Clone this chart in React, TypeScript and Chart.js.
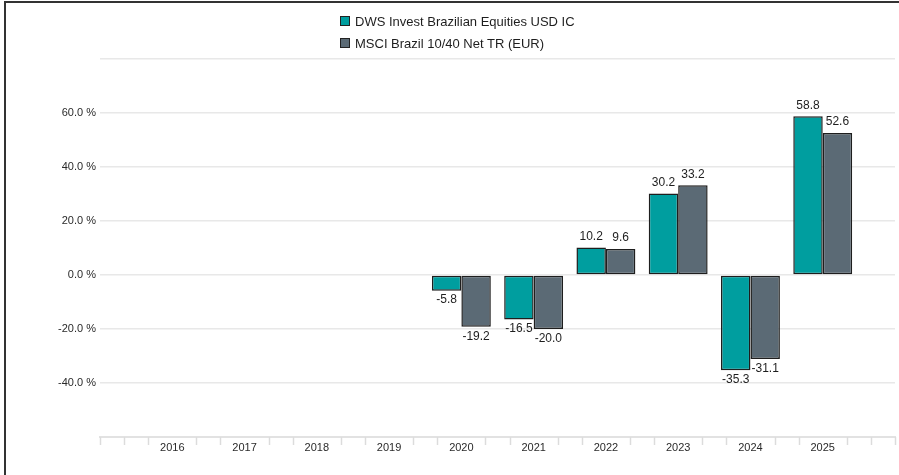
import React, { useEffect, useRef } from "react";
import { Chart, registerables } from "chart.js";

Chart.register(...registerables);

const years = ["2016", "2017", "2018", "2019", "2020", "2021", "2022", "2023", "2024", "2025"];
const fundName = "DWS Invest Brazilian Equities USD IC";
const benchName = "MSCI Brazil 10/40 Net TR (EUR)";
const fundValues: (number | null)[] = [null, null, null, null, -5.8, -16.5, 10.2, 30.2, -35.3, 58.8];
const benchValues: (number | null)[] = [null, null, null, null, -19.2, -20.0, 9.6, 33.2, -31.1, 52.6];
const fundColor = "#009E9F";
const benchColor = "#5B6A75";
const yMin = -60;
const yMax = 80;
const yStep = 20;

const FONT = "'Liberation Sans', Arial, sans-serif";

const valueLabels = {
  id: "valueLabels",
  afterDatasetsDraw(chart: any) {
    const ctx = chart.ctx;
    ctx.save();
    ctx.font = `12px ${FONT}`;
    ctx.fillStyle = "#1e1e1e";
    ctx.textAlign = "center";
    ctx.textBaseline = "middle";
    chart.data.datasets.forEach((ds: any, i: number) => {
      const meta = chart.getDatasetMeta(i);
      meta.data.forEach((el: any, j: number) => {
        const v = ds.data[j];
        if (v === null || v === undefined) return;
        const y = v >= 0 ? el.y - 11 : el.y + 9.5;
        ctx.fillText(v.toFixed(1), el.x, y);
      });
    });
    ctx.restore();
  },
};

const minorTicks = {
  id: "minorTicks",
  afterDraw(chart: any) {
    const sx = chart.scales.x;
    const ctx = chart.ctx;
    const n = chart.data.labels.length - 1;
    ctx.save();
    ctx.strokeStyle = "#dcdcdc";
    ctx.lineWidth = 1.5;
    for (let k = 0; k <= n * 3; k++) {
      const t = k / 3;
      if (k % 3 === 0 && t >= 1 && t <= n - 1) continue;
      const x = Math.round(sx.getPixelForValue(t)) + 0.5;
      ctx.beginPath();
      ctx.moveTo(x, sx.top);
      ctx.lineTo(x, sx.top + 8);
      ctx.stroke();
    }
    ctx.restore();
  },
};

export default function App() {
  const ref = useRef<HTMLCanvasElement>(null);

  useEffect(() => {
    document.body.style.margin = "0";
    const labels = ["", ...years, ""];
    const chart = new Chart(ref.current!, {
      type: "bar",
      data: {
        labels,
        datasets: [
          {
            label: fundName,
            data: [null, ...fundValues, null],
            backgroundColor: fundColor,
            borderColor: "#1e1e1e",
            borderWidth: 1.5,
            borderSkipped: false,
            categoryPercentage: 0.815,
            barPercentage: 1,
          },
          {
            label: benchName,
            data: [null, ...benchValues, null],
            backgroundColor: benchColor,
            borderColor: "#1e1e1e",
            borderWidth: 1.5,
            borderSkipped: false,
            categoryPercentage: 0.815,
            barPercentage: 1,
          },
        ],
      },
      options: {
        responsive: false,
        animation: false,
        layout: { padding: { left: 0, right: 3, top: 59, bottom: 0 } },
        plugins: {
          legend: { display: false },
          tooltip: { enabled: false },
        },
        scales: {
          x: {
            offset: false,
            grid: { display: false, drawTicks: false },
            border: { display: true, color: "#e2e2e2", width: 2 },
            ticks: {
              autoSkip: false,
              maxRotation: 0,
              padding: 4,
              color: "#2a2a2a",
              font: { family: FONT, size: 11 },
            },
            afterFit: (s: any) => {
              s.height = 38;
            },
          },
          y: {
            min: yMin,
            max: yMax,
            grid: { color: "#e8e8e8", lineWidth: 1.5, drawTicks: false },
            border: { display: false },
            ticks: {
              stepSize: yStep,
              padding: 4,
              color: "#2a2a2a",
              font: { family: FONT, size: 11 },
              callback: (v: any) => (v === yMax || v === yMin ? "" : Number(v).toFixed(1) + " %"),
            },
            afterFit: (s: any) => {
              s.width = 100;
            },
          },
        },
      },
      plugins: [valueLabels, minorTicks],
    });
    return () => chart.destroy();
  }, []);

  const legendItems = [
    { name: fundName, color: fundColor, top: 13 },
    { name: benchName, color: benchColor, top: 35 },
  ];

  return (
    <div style={{ position: "fixed", left: 0, top: 0, width: 899, height: 475, background: "#fff", overflow: "hidden" }}>
      <canvas ref={ref} width={899} height={475} style={{ position: "absolute", left: 0, top: 0 }} />
      <div
        style={{
          position: "absolute",
          left: 4,
          top: 1,
          width: 893,
          height: 480,
          borderLeft: "2px solid #333",
          borderTop: "2px solid #333",
          pointerEvents: "none",
        }}
      />
      {legendItems.map((it) => (
        <div
          key={it.name}
          style={{
            position: "absolute",
            left: 340,
            top: it.top,
            height: 16,
            display: "flex",
            alignItems: "center",
            fontFamily: FONT,
            fontSize: 13,
            color: "#1e1e1e",
            whiteSpace: "nowrap",
          }}
        >
          <span
            style={{
              display: "inline-block",
              width: 8,
              height: 8,
              border: "1px solid #222",
              background: it.color,
              marginRight: 5,
            }}
          />
          {it.name}
        </div>
      ))}
    </div>
  );
}
